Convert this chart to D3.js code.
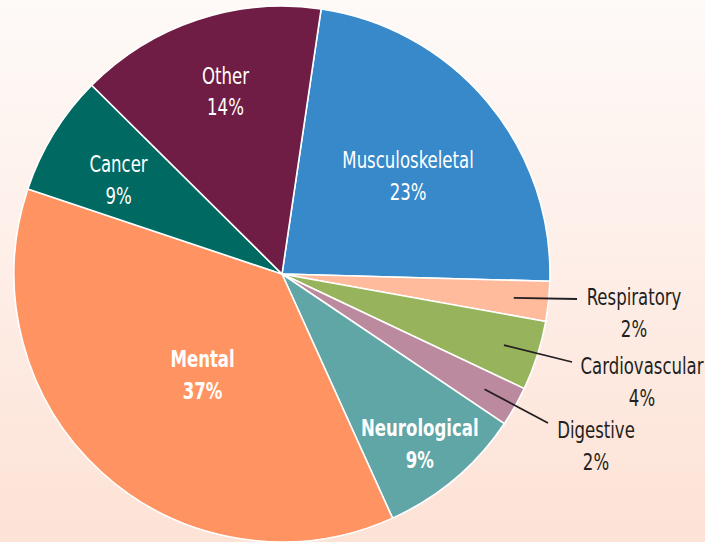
<!DOCTYPE html>
<html>
<head>
<meta charset="utf-8">
<script src="https://cdn.jsdelivr.net/npm/d3@7"></script>
<style>
  html, body { margin: 0; padding: 0; }
  body { width: 705px; height: 542px; overflow: hidden; }
  svg { display: block; }
  .lbl { font-family: "DejaVu Sans Condensed", "Liberation Sans Narrow", sans-serif; font-size: 23px; }
</style>
</head>
<body>
<svg id="chart"></svg>
<script>
// Share of cases by condition group.
// labels are the rounded percentages printed on the original.
const categories = ["Musculoskeletal", "Respiratory", "Cardiovascular", "Digestive",
  "Neurological", "Mental", "Cancer", "Other"];
const values = [23.1, 2.4, 4.2, 2.4, 8.8, 36.9, 7.3, 14.9];
const percentLabels = ["23%", "2%", "4%", "2%", "9%", "37%", "9%", "14%"];

const colors = ["#3789c9", "#ffbb9b", "#97b45c", "#bc8a9e", "#60a6a6", "#ff9462", "#006a62", "#6f1d45"];

const W = 705, H = 542;
const cx = 282, cy = 274, R = 268;
const START = 8.4 * Math.PI / 180;
const SQUEEZE = 0.8; // fake a condensed face

// layout: inside labels sit at a radius along the mid angle (plus a small
// angle nudge in degrees); small slices get a leader line and outside label.
const layout = {
  Musculoskeletal: { r: 160, da: 2, bold: false },
  Neurological: { r: 218, da: 1, bold: true },
  Mental: { r: 128, da: -3.7, bold: true },
  Cancer: { r: 189, da: -1.5, bold: false },
  Other: { r: 192, da: 1.3, bold: false },
  Respiratory: { out: [352, 38], end: [295, 25] },
  Cardiovascular: { out: [360, 107], end: [290, 88] },
  Digestive: { out: [314, 171], end: [266, 149] },
};

const svg = d3.select("#chart").attr("width", W).attr("height", H);

const defs = svg.append("defs");
const grad = defs.append("linearGradient")
  .attr("id", "bg")
  .attr("x1", 0).attr("y1", 0).attr("x2", 0).attr("y2", 1);
grad.append("stop").attr("offset", "0").attr("stop-color", "#fefaf8");
grad.append("stop").attr("offset", "1").attr("stop-color", "#fde2d6");
svg.append("rect").attr("width", W).attr("height", H).attr("fill", "url(#bg)");

const g = svg.append("g").attr("transform", `translate(${cx},${cy})`);

const data = categories.map((c, i) => ({ name: c, value: values[i], pct: percentLabels[i], color: colors[i] }));

const pie = d3.pie()
  .sort(null)
  .value((d) => d.value)
  .startAngle(START)
  .endAngle(START + 2 * Math.PI);

const arcs = pie(data);
const arc = d3.arc().innerRadius(0).outerRadius(R);

g.selectAll("path.slice")
  .data(arcs)
  .join("path")
  .attr("class", "slice")
  .attr("d", arc)
  .attr("fill", (d) => d.data.color)
  .attr("stroke", "#fff")
  .attr("stroke-width", 1.6)
  .attr("stroke-linejoin", "round");

const polar = (a, r) => [Math.sin(a) * r, -Math.cos(a) * r];

function twoLines(pos, d, fill, bold) {
  const t = g.append("text")
    .attr("class", "lbl")
    .attr("transform", `translate(${pos[0]},${pos[1]}) scale(${SQUEEZE},1)`)
    .attr("text-anchor", "middle")
    .attr("fill", fill)
    .attr("font-weight", bold ? "bold" : "normal");
  t.append("tspan").attr("x", 0).attr("y", -7).text(d.data.name);
  t.append("tspan").attr("x", 0).attr("y", 25).text(d.data.pct);
}

arcs.forEach((d) => {
  const L = layout[d.data.name];
  const mid = (d.startAngle + d.endAngle) / 2;
  if (L.out) {
    const p0 = polar(mid, 233);
    g.append("line")
      .attr("x1", p0[0]).attr("y1", p0[1])
      .attr("x2", L.end[0]).attr("y2", L.end[1])
      .attr("stroke", "#231f20")
      .attr("stroke-width", 1.8);
    twoLines(L.out, d, "#231f20", false);
  } else {
    twoLines(polar(mid + L.da * Math.PI / 180, L.r), d, "#fff", L.bold);
  }
});
</script>
</body>
</html>
